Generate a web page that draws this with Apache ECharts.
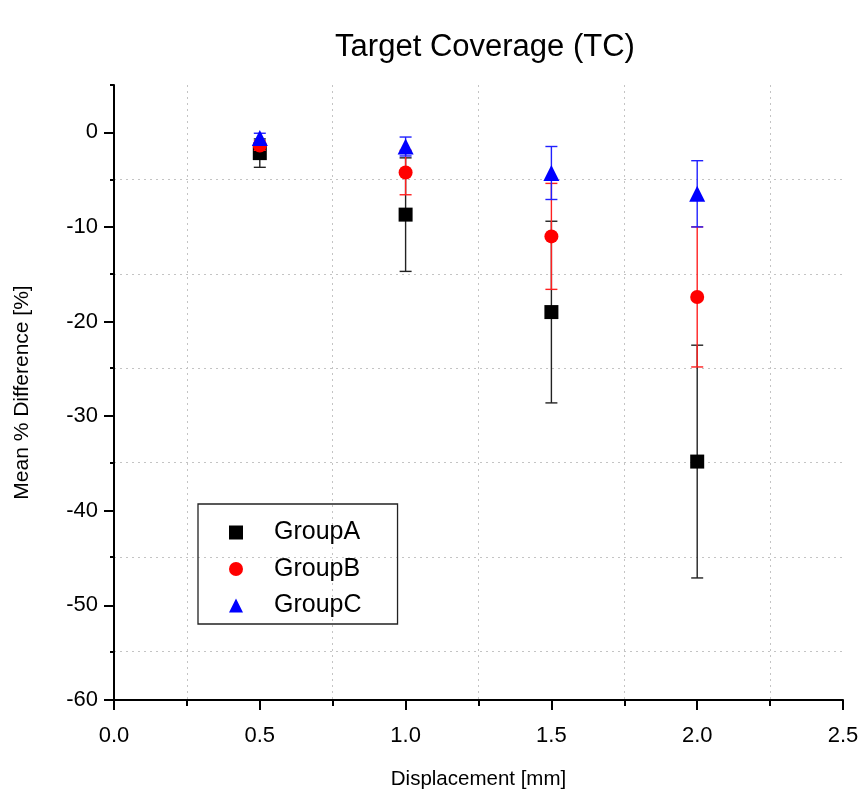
<!DOCTYPE html>
<html>
<head>
<meta charset="utf-8">
<script src="https://cdn.jsdelivr.net/npm/echarts@6/dist/echarts.min.js"></script>
<style>
html,body{margin:0;padding:0;background:#fff;}
#chart{width:866px;height:796px;}
</style>
</head>
<body>
<div id="chart"></div>
<script>
// ---- data ----
var displacement = [0.5, 1.0, 1.5, 2.0];
var groupNames = ['GroupA', 'GroupB', 'GroupC'];
var groupAMean = [-2.2, -8.7, -19.0, -34.8];
var groupAErr  = [1.5, 6.0, 9.6, 12.3];
var groupBMean = [-1.4, -4.25, -11.0, -17.4];
var groupBErr  = [0.5, 2.35, 5.6, 7.4];
var groupCMean = [-0.6, -1.5, -4.3, -6.5];
var groupCErr  = [0.5, 1.0, 2.8, 3.5];

var FONT = '"Liberation Sans", Arial, sans-serif';
var colors = ['#000000', '#ff0000', '#0000ff'];
var errColors = ['#222222', '#ff2020', '#2020ff'];
var symbols = ['rect', 'circle', 'triangle'];
var symSizes = [14, 14, 16];
var means = [groupAMean, groupBMean, groupCMean];
var errs = [groupAErr, groupBErr, groupCErr];

function errRender(color) {
  return function (params, api) {
    var x = api.value(0), lo = api.value(1), hi = api.value(2);
    var p1 = api.coord([x, hi]), p2 = api.coord([x, lo]);
    var hw = 6;
    var st = {stroke: color, lineWidth: 1.4};
    return {type: 'group', children: [
      {type: 'line', shape: {x1: p1[0], y1: p1[1], x2: p2[0], y2: p2[1]}, style: st},
      {type: 'line', shape: {x1: p1[0] - hw, y1: p1[1], x2: p1[0] + hw, y2: p1[1]}, style: st},
      {type: 'line', shape: {x1: p2[0] - hw, y1: p2[1], x2: p2[0] + hw, y2: p2[1]}, style: st}
    ]};
  };
}

var series = [];
for (var g = 0; g < 3; g++) {
  var errData = displacement.map(function (x, i) {
    return [x, means[g][i] - errs[g][i], means[g][i] + errs[g][i]];
  });
  series.push({
    name: groupNames[g] + ' err', type: 'custom', xAxisIndex: 0, yAxisIndex: 0,
    renderItem: errRender(errColors[g]), data: errData, z: 2 + g * 2, silent: true,
    encode: {x: 0, y: [1, 2]}
  });
  series.push({
    name: groupNames[g], type: 'scatter', xAxisIndex: 0, yAxisIndex: 0,
    symbol: symbols[g], symbolSize: symSizes[g],
    itemStyle: {color: colors[g], opacity: 1},
    data: displacement.map(function (x, i) { return [x, means[g][i]]; }),
    z: 3 + g * 2
  });
}

var chart = echarts.init(document.getElementById('chart'), null, {renderer: 'canvas'});
chart.setOption({
  animation: false,
  backgroundColor: '#ffffff',
  title: {
    text: 'Target Coverage (TC)', left: 480, top: 27, textAlign: 'center',
    textStyle: {fontFamily: FONT, fontSize: 31, fontWeight: 'normal', color: '#000'}
  },
  legend: {
    data: groupNames.map(function (n, i) { return {name: n, icon: symbols[i]}; }),
    orient: 'vertical', left: 198, top: 504,
    borderColor: '#222', borderWidth: 1.3,
    padding: [16, 36, 6, 31], itemGap: 11.5,
    itemWidth: 14, itemHeight: 14,
    textStyle: {fontFamily: FONT, fontSize: 25, color: '#000', padding: [0, 0, 0, 26]}
  },
  grid: [
    {left: 114, right: 23, top: 85, bottom: 96},
    {left: 114, right: 23, top: 85, bottom: 144.6}
  ],
  xAxis: [{
    gridIndex: 0, type: 'value', min: 0, max: 2.5, interval: 0.5,
    name: 'Displacement [mm]', nameLocation: 'middle', nameGap: 69,
    nameTextStyle: {fontFamily: FONT, fontSize: 20.5, color: '#000'},
    axisLine: {show: true, onZero: false, lineStyle: {color: '#000', width: 2}},
    axisTick: {show: true, length: 10, lineStyle: {color: '#000', width: 2}},
    minorTick: {show: true, splitNumber: 2, length: 6, lineStyle: {color: '#000', width: 2}},
    minorSplitLine: {show: true, lineStyle: {color: '#c4c4c4', width: 1, type: [2, 4]}},
    splitLine: {show: false},
    axisLabel: {fontFamily: FONT, fontSize: 22, color: '#000', margin: 25,
      formatter: function (v) { return v.toFixed(1); }}
  }, {
    gridIndex: 1, type: 'value', min: 0, max: 2.5, show: false
  }],
  yAxis: [{
    gridIndex: 0, type: 'value', min: -60, max: 5, interval: 10,
    name: 'Mean % Difference [%]', nameLocation: 'middle', nameGap: 81,
    nameTextStyle: {fontFamily: FONT, fontSize: 21, color: '#000'},
    axisLine: {show: true, onZero: false, lineStyle: {color: '#000', width: 2}},
    axisTick: {show: true, length: 10, lineStyle: {color: '#000', width: 2}},
    splitLine: {show: false},
    axisLabel: {fontFamily: FONT, fontSize: 22, color: '#000', margin: 16, showMaxLabel: false}
  }, {
    gridIndex: 1, type: 'value', min: -55, max: 5, interval: 10,
    axisLine: {show: false},
    axisTick: {show: true, length: 4, lineStyle: {color: '#000', width: 2}},
    axisLabel: {show: false},
    splitLine: {show: true, showMaxLine: false, lineStyle: {color: '#c4c4c4', width: 1, type: [2, 4]}}
  }],
  series: series
});
</script>
</body>
</html>
